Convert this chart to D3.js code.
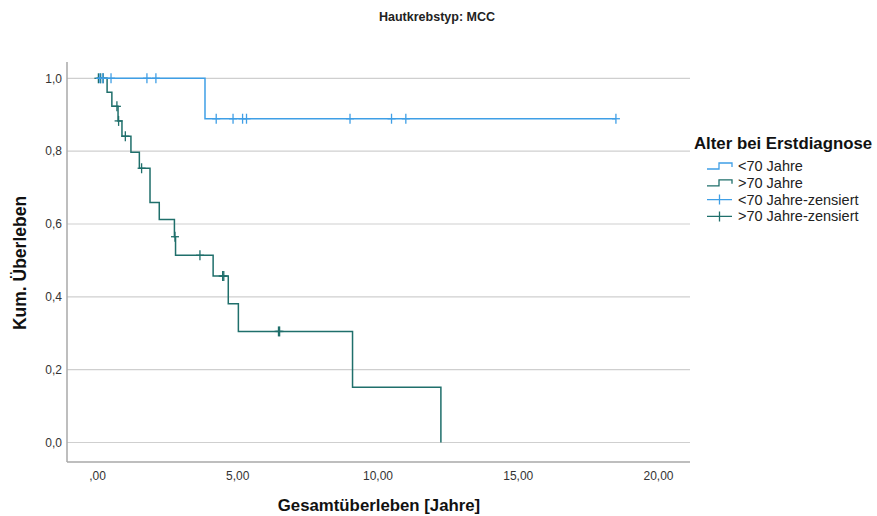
<!DOCTYPE html>
<html>
<head>
<meta charset="utf-8">
<script src="https://cdn.jsdelivr.net/npm/d3@7"></script>
<style>
  body { margin: 0; background: #fff; }
  text { font-family: "Liberation Sans", Arial, sans-serif; }
</style>
</head>
<body>
<div id="chart"></div>
<script>
// Kaplan-Meier steps (time in years, survival)
var groups = ["<70 Jahre", ">70 Jahre"];

var youngStepTimes = [0, 3.85, 18.5];
var youngStepSurv  = [1, 0.889, 0.889];
var youngCensored  = [0.10, 0.21, 0.50, 1.78, 2.10, 4.25, 4.85, 5.19, 5.33, 9.02, 10.50, 11.01, 18.50];

var oldStepTimes = [0, 0.36, 0.53, 0.75, 0.89, 1.21, 1.51, 1.89, 2.22, 2.76, 2.80, 4.14, 4.68, 5.04, 9.11, 12.26];
var oldStepSurv  = [1, 0.962, 0.923, 0.883, 0.841, 0.797, 0.753, 0.659, 0.612, 0.565, 0.514, 0.457, 0.381, 0.305, 0.152, 0];
var oldCensored  = [0.05, 0.13, 0.22, 0.71, 0.77, 1.01, 1.59, 2.78, 3.67, 4.48, 4.52, 6.47, 6.51];

var xTicks = [0, 5, 10, 15, 20];
var yTicks = [0, 0.2, 0.4, 0.6, 0.8, 1.0];

var colors = {"<70 Jahre": "#3f9fe6", ">70 Jahre": "#1f6f6b"};

var width = 877, height = 516;
var plot = {left: 67, right: 690, top: 62, bottom: 462};

var svg = d3.select("#chart").append("svg")
    .attr("width", width)
    .attr("height", height);

var x = d3.scaleLinear().domain([0, 20]).range([97, 658]);
var y = d3.scaleLinear().domain([0, 1]).range([442.5, 78.3]);

// german number format
function deNum(v, digits) {
    var s = v.toFixed(digits).replace(".", ",");
    if (s.indexOf("0,") == 0) s = s.substring(1);
    return s;
}

// horizontal grid lines
svg.append("g")
    .selectAll("line")
    .data(yTicks)
    .enter()
    .append("line")
    .attr("x1", plot.left)
    .attr("x2", plot.right)
    .attr("y1", function (d) { return y(d); })
    .attr("y2", function (d) { return y(d); })
    .attr("stroke", "#cfcfcf")
    .attr("stroke-width", 1.2);

// y axis
var yAxis = d3.axisLeft(y)
    .tickValues(yTicks)
    .tickSize(0)
    .tickPadding(5)
    .tickFormat(function (d) { return d.toFixed(1).replace(".", ","); });
var gy = svg.append("g").attr("transform", "translate(" + plot.left + ",0)").call(yAxis);
gy.select(".domain").remove();
gy.selectAll("text").attr("font-size", 12).attr("fill", "#333")
    .attr("font-family", "Liberation Sans, Arial, sans-serif");

// x axis
var xAxis = d3.axisBottom(x)
    .tickValues(xTicks)
    .tickSize(0)
    .tickPadding(9)
    .tickFormat(function (d) { return deNum(d, 2); });
var gx = svg.append("g").attr("transform", "translate(0," + plot.bottom + ")").call(xAxis);
gx.select(".domain").remove();
gx.selectAll("text").attr("font-size", 12).attr("fill", "#333")
    .attr("font-family", "Liberation Sans, Arial, sans-serif");

// axis lines
svg.append("line")
    .attr("x1", plot.left).attr("x2", plot.left)
    .attr("y1", plot.top).attr("y2", plot.bottom)
    .attr("stroke", "#a8a8a8").attr("stroke-width", 1.5);
svg.append("line")
    .attr("x1", plot.left).attr("x2", plot.right)
    .attr("y1", plot.bottom).attr("y2", plot.bottom)
    .attr("stroke", "#a8a8a8").attr("stroke-width", 1.5);

// step curves
var stepLine = d3.line()
    .x(function (d) { return x(d[0]); })
    .y(function (d) { return y(d[1]); })
    .curve(d3.curveStepAfter);

var curves = [
    {group: ">70 Jahre", times: oldStepTimes, surv: oldStepSurv, censored: oldCensored},
    {group: "<70 Jahre", times: youngStepTimes, surv: youngStepSurv, censored: youngCensored}
];

// survival value at time t (right continuous step)
function survAt(c, t) {
    var s = 1;
    for (var i = 0; i < c.times.length; i++) {
        if (c.times[i] <= t) s = c.surv[i];
    }
    return s;
}

curves.forEach(function (c) {
    var pts = c.times.map(function (t, i) { return [t, c.surv[i]]; });
    svg.append("path")
        .datum(pts)
        .attr("fill", "none")
        .attr("stroke", colors[c.group])
        .attr("stroke-width", 1.5)
        .attr("d", stepLine);

    var marks = svg.append("g").selectAll("g")
        .data(c.censored)
        .enter()
        .append("g")
        .attr("transform", function (t) {
            return "translate(" + x(t) + "," + y(survAt(c, t)) + ")";
        });
    marks.append("line")
        .attr("x1", 0).attr("x2", 0).attr("y1", -5).attr("y2", 5)
        .attr("stroke", colors[c.group]).attr("stroke-width", 1.3);
    marks.append("line")
        .attr("x1", -4).attr("x2", 4).attr("y1", 0).attr("y2", 0)
        .attr("stroke", colors[c.group]).attr("stroke-width", 1.3);
});

// titles
svg.append("text")
    .attr("x", 437).attr("y", 21)
    .attr("text-anchor", "middle")
    .attr("font-size", 12.5).attr("font-weight", "bold").attr("fill", "#222")
    .text("Hautkrebstyp: MCC");

svg.append("text")
    .attr("x", 379).attr("y", 511)
    .attr("text-anchor", "middle")
    .attr("font-size", 16.8).attr("font-weight", "bold").attr("fill", "#111")
    .text("Gesamtüberleben [Jahre]");

svg.append("text")
    .attr("transform", "translate(26,263) rotate(-90)")
    .attr("text-anchor", "middle")
    .attr("font-size", 17.5).attr("font-weight", "bold").attr("fill", "#111")
    .text("Kum. Überleben");

// legend
var legendItems = [
    {label: "<70 Jahre", group: "<70 Jahre", kind: "step"},
    {label: ">70 Jahre", group: ">70 Jahre", kind: "step"},
    {label: "<70 Jahre-zensiert", group: "<70 Jahre", kind: "censor"},
    {label: ">70 Jahre-zensiert", group: ">70 Jahre", kind: "censor"}
];

svg.append("text")
    .attr("x", 694).attr("y", 149)
    .attr("font-size", 16.8).attr("font-weight", "bold").attr("fill", "#111")
    .text("Alter bei Erstdiagnose");

var legend = svg.append("g").selectAll("g")
    .data(legendItems)
    .enter()
    .append("g")
    .attr("transform", function (d, i) { return "translate(707," + (166 + i * 16.8) + ")"; });

legend.filter(function (d) { return d.kind == "step"; })
    .append("path")
    .attr("fill", "none")
    .attr("stroke", function (d) { return colors[d.group]; })
    .attr("stroke-width", 1.3)
    .attr("d", "M0,3H12V-3H25V1");

legend.filter(function (d) { return d.kind == "censor"; })
    .append("path")
    .attr("fill", "none")
    .attr("stroke", function (d) { return colors[d.group]; })
    .attr("stroke-width", 1.3)
    .attr("d", "M0,0H25M12.5,-5V5");

legend.append("text")
    .attr("x", 31).attr("y", 5)
    .attr("font-size", 14.5).attr("fill", "#222")
    .text(function (d) { return d.label; });
</script>
</body>
</html>
